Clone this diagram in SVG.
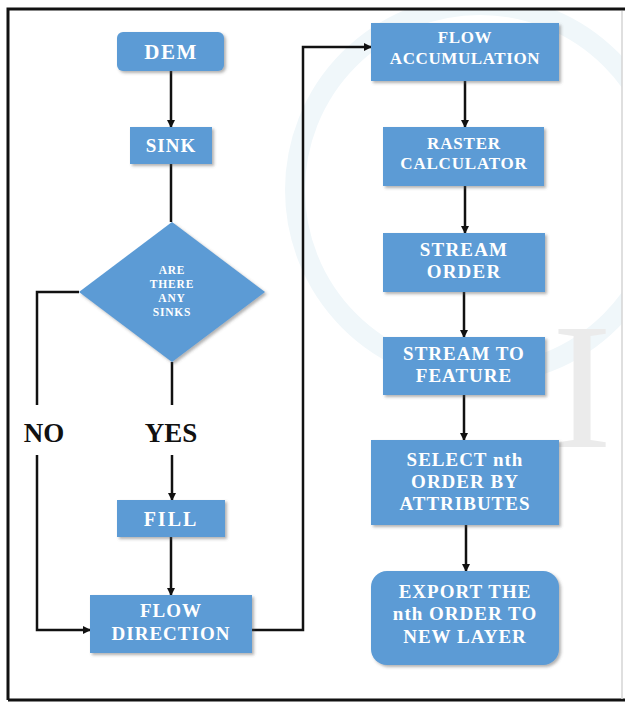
<svg xmlns="http://www.w3.org/2000/svg" width="625" height="702" viewBox="0 0 625 702">
<style>
.box{fill:#5b9bd5;filter:url(#sh)}
.t{font-family:"Liberation Serif","Times New Roman",serif;font-weight:bold;fill:#ffffff;text-anchor:middle}
.lbl{font-family:"Liberation Serif","Times New Roman",serif;font-weight:bold;fill:#111111;text-anchor:middle;font-size:27px}
.c{fill:none;stroke:#111111;stroke-width:2.5}
.ca{fill:none;stroke:#111111;stroke-width:2.5;marker-end:url(#ah)}
.wm{fill:none;stroke:#f0f7fa;stroke-width:20}
</style>
<defs>
<filter id="sh" x="-10%" y="-10%" width="130%" height="130%">
<feDropShadow dx="2" dy="2" stdDeviation="1.5" flood-color="#555" flood-opacity="0.45"/>
</filter>
<marker id="ah" markerWidth="8" markerHeight="8" refX="7" refY="4" orient="auto" markerUnits="userSpaceOnUse">
<path d="M0,0 L8,4 L0,8 Z" fill="#111"/>
</marker>
<clipPath id="wmclip"><rect x="262" y="10" width="360" height="688"/></clipPath>
</defs>
<rect width="625" height="702" fill="#ffffff"/>
<g id="watermark" clip-path="url(#wmclip)">
<circle class="wm" cx="480" cy="190" r="185"/>
<text x="552" y="447" font-family="Liberation Serif,serif" font-size="180" fill="#ebebeb">I</text>
</g>
<g id="frame" fill="none">
<path d="M8,700 L8,9 L625,9" stroke="#111" stroke-width="3"/>
<line x1="8" y1="700" x2="625" y2="700" stroke="#111" stroke-width="3"/>
<line x1="622" y1="11" x2="622" y2="699" stroke="#d5d5d5" stroke-width="1.5"/>
</g>
<g id="connectors">
<line class="ca" x1="171" y1="71" x2="171" y2="127"/>
<line class="c" x1="171" y1="164" x2="171" y2="222"/>
<polyline class="c" points="79,292 37,292 37,405"/>
<polyline class="ca" points="37,455 37,630 90,630"/>
<line class="c" x1="172" y1="362" x2="172" y2="405"/>
<line class="ca" x1="172" y1="455" x2="172" y2="500"/>
<line class="ca" x1="171" y1="537" x2="171" y2="595"/>
<polyline class="ca" points="252,630 303,630 303,47 371,47"/>
<line class="ca" x1="465" y1="81" x2="465" y2="127"/>
<line class="ca" x1="465" y1="186" x2="465" y2="233"/>
<line class="ca" x1="464" y1="292" x2="464" y2="337"/>
<line class="ca" x1="464" y1="395" x2="464" y2="440"/>
<line class="ca" x1="466" y1="525" x2="466" y2="571"/>
</g>
<g id="labels">
<text class="lbl" x="44" y="442">NO</text>
<text class="lbl" x="171" y="442">YES</text>
</g>
<g id="dem">
<rect class="box" x="117" y="32" width="107" height="39" rx="6"/>
<text class="t" x="171" y="59" font-size="21" letter-spacing="1.5">DEM</text>
</g>
<g id="sink">
<rect class="box" x="130" y="127" width="82" height="37"/>
<text class="t" x="171" y="152" font-size="19" letter-spacing="1">SINK</text>
</g>
<g id="decision">
<polygon class="box" points="172,222 265,292 172,362 79,292"/>
<text class="t" font-size="11.5" letter-spacing="0.8">
<tspan x="172" y="274">ARE</tspan><tspan x="172" y="288">THERE</tspan><tspan x="172" y="302">ANY</tspan><tspan x="172" y="316">SINKS</tspan>
</text>
</g>
<g id="fill">
<rect class="box" x="117" y="500" width="108" height="37"/>
<text class="t" x="171" y="526" font-size="20" letter-spacing="2">FILL</text>
</g>
<g id="flow-direction">
<rect class="box" x="90" y="595" width="162" height="58"/>
<text class="t" font-size="19" letter-spacing="1"><tspan x="171" y="617">FLOW</tspan><tspan x="171" y="640">DIRECTION</tspan></text>
</g>
<g id="flow-accumulation">
<rect class="box" x="371" y="23" width="188" height="58"/>
<text class="t" font-size="17" letter-spacing="0.6"><tspan x="465" y="43">FLOW</tspan><tspan x="465" y="64">ACCUMULATION</tspan></text>
</g>
<g id="raster-calculator">
<rect class="box" x="383" y="127" width="161" height="59"/>
<text class="t" font-size="17" letter-spacing="0.8"><tspan x="464" y="149">RASTER</tspan><tspan x="464" y="169">CALCULATOR</tspan></text>
</g>
<g id="stream-order">
<rect class="box" x="383" y="233" width="162" height="59"/>
<text class="t" font-size="19" letter-spacing="1.2"><tspan x="464" y="256">STREAM</tspan><tspan x="464" y="278">ORDER</tspan></text>
</g>
<g id="stream-to-feature">
<rect class="box" x="383" y="337" width="162" height="58"/>
<text class="t" font-size="19" letter-spacing="1"><tspan x="464" y="360">STREAM TO</tspan><tspan x="464" y="382">FEATURE</tspan></text>
</g>
<g id="select-nth">
<rect class="box" x="371" y="440" width="188" height="85"/>
<text class="t" font-size="19" letter-spacing="1"><tspan x="465" y="466">SELECT nth</tspan><tspan x="465" y="488">ORDER BY</tspan><tspan x="465" y="510">ATTRIBUTES</tspan></text>
</g>
<g id="export">
<rect class="box" x="371" y="571" width="188" height="94" rx="16"/>
<text class="t" font-size="19" letter-spacing="1"><tspan x="465" y="598">EXPORT THE</tspan><tspan x="465" y="620">nth ORDER TO</tspan><tspan x="465" y="643">NEW LAYER</tspan></text>
</g>
</svg>
